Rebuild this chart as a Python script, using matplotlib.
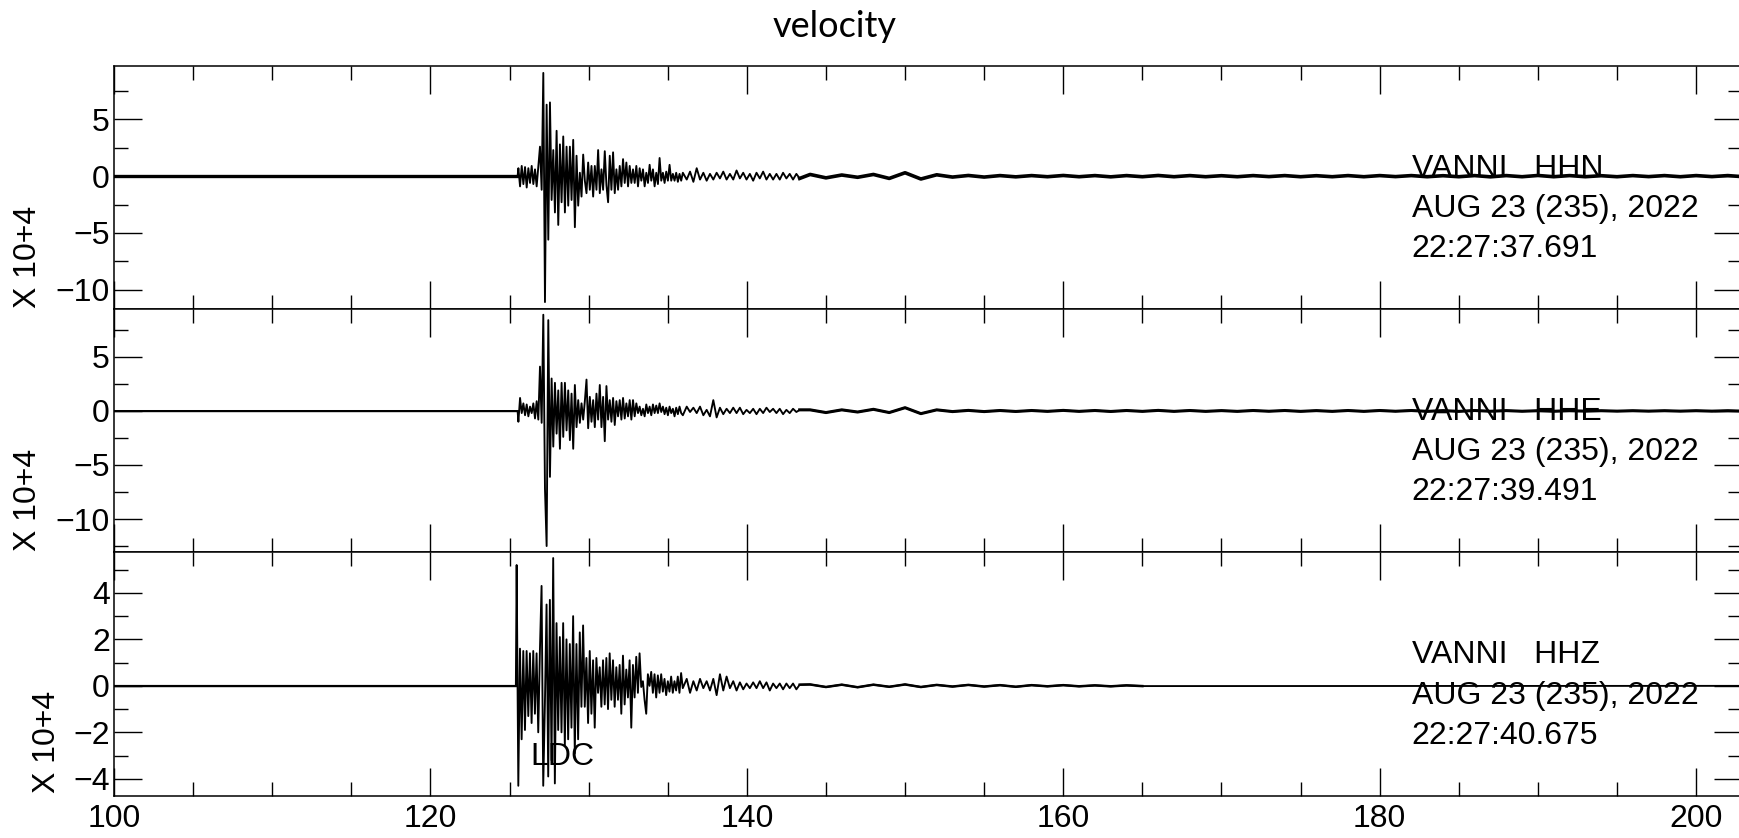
import numpy as np
import matplotlib.pyplot as plt
from matplotlib.ticker import MultipleLocator

plt.rcParams['font.family'] = ['Liberation Sans', 'DejaVu Sans']
plt.rcParams['font.size'] = 23

# time axis (s) and sample spacing used for the hand-read traces
X_MIN, X_MAX = 100.0, 202.9
BURST_DT = 0.105
CODA_START, CODA_DT = 136.20, 0.21
TAIL_START, TAIL_DT = 144.0, 1.0

# amplitudes in units of 10^4
hhn_onset = 125.56
hhn_burst = [0.7, -0.9, 0.9, -0.7, 0.8, -1.0, 0.7, -0.6, 0.9, -0.7, 0.6, -0.9, 0.9,
             2.6, -1.2, 9.1, -11.1, 6.3, -5.6, 6.5, -2.1, 2.3, -3.2, 4.0, -4.3, 2.8, -2.3,
             3.5, -3.2, 2.6, -2.6, 2.6, -2.1, 3.2, -4.5, 1.8, -2.6, 0.3, -1.8,
             1.9, -0.4, -1.5, 1.2, -1.2, 0.9, -1.8, 0.9, -1.2, 2.3, -1.5, 0.6, -1.2, 2.2,
             -0.8, -2.3, 1.8, -1.2, 2.1, -1.5, 0.6, -1.2, 0.9, -0.9, 1.5, -0.6, 1.2, -0.9,
             0.9, -0.6, 0.6, -0.6, 0.9, -0.9, 0.7, -0.4, 0.6, -0.9, 0.3, -0.6, 1.0, -0.4,
             0.6, -0.9, 0.3, -0.7, 1.6, -0.4, 0.3, -0.6, 0.4, -0.4, 1.0, -0.4, 0.2, -0.4,
             0.3, -0.5, 0.2, -0.4, 0.3]
hhn_coda = [-0.3, 0.4, -0.5, 0.7, -0.3, 0.3, -0.4, 0.2, -0.3, 0.3, -0.2, 0.4, -0.3, 0.2,
            -0.3, 0.5, -0.2, 0.3, -0.3, 0.2, -0.4, 0.3, -0.2, 0.4, -0.3, 0.2, -0.3, 0.2,
            -0.3, 0.3, -0.2, 0.2, -0.3, 0.2, -0.2]
hhn_tail = [0.15, -0.15, 0.1, -0.1, 0.15, -0.2, 0.3, -0.25, 0.12, -0.08, 0.06, -0.08,
            0.05, -0.06, 0.05, -0.05, 0.06, -0.05, 0.05, -0.06, 0.05, -0.05, 0.06, -0.05,
            0.05, -0.05, 0.04, -0.05, 0.05, -0.04, 0.05, -0.05, 0.04, -0.05, 0.05, -0.05,
            0.05, -0.04, 0.05, -0.05, 0.04, -0.05, 0.05, -0.06, 0.05, -0.05, 0.06, -0.05,
            0.05, -0.05, 0.04, -0.05, 0.05, -0.04, 0.05, -0.05, 0.05, -0.04, 0.05, -0.05]

hhe_onset = 125.56
hhe_burst = [-1.0, 1.2, -0.2, 0.7, -0.4, 0.6, -0.5, 0.4, -0.2, 0.7, -0.7, 0.9, -0.8,
             4.1, -1.1, 8.9, -7.2, -12.5, 8.4, -6.1, 3.0, -3.3, 2.6, -2.1, 1.9, -3.5, 2.6,
             -2.4, 2.6, -1.8, 1.9, -2.7, 1.6, -3.5, 2.4, -1.5, 1.0, -1.1, 0.7,
             -0.8, 0.9, 2.9, -1.6, 1.3, -1.0, 1.0, -1.5, 1.6, -0.8, 2.4, -1.5, 1.3, -2.8,
             2.3, -0.8, 1.0, -1.0, 1.2, -1.3, 0.9, -0.5, 1.0, -0.8, 1.2, -0.7, 0.7, -0.5,
             1.0, -0.8, 1.0, -0.5, 0.7, -0.2, 0.4, -0.4, 0.2, -0.5, 0.6, -0.2, 0.4, -0.4,
             0.6, -0.2, 0.5, -0.2, 0.7, -0.1, 0.4, -0.3, 0.3, -0.4, 0.4, -0.2, 0.2, -0.5,
             0.3, -0.3, 0.4, -0.2, -0.4]
hhe_coda = [0.4, -0.1, 0.3, -0.2, 0.4, -0.4, 0.1, -0.5, 1.0, -0.6, 0.3, -0.3, 0.2, -0.2,
            0.3, -0.2, 0.3, -0.3, 0.1, -0.2, 0.2, -0.3, 0.2, -0.2, 0.3, -0.1, 0.2, -0.2,
            0.2, -0.3, 0.1, -0.2, 0.2, -0.1, 0.1]
hhe_tail = [0.1, -0.15, 0.1, -0.1, 0.15, -0.15, 0.3, -0.25, 0.1, -0.06, 0.05, -0.06,
            0.04, -0.05, 0.04, -0.04, 0.05, -0.04, 0.04, -0.05, 0.04, -0.04, 0.05, -0.04,
            0.04, -0.04, 0.03, -0.04, 0.04, -0.03, 0.04, -0.04, 0.03, -0.04, 0.04, -0.04,
            0.04, -0.03, 0.04, -0.04, 0.03, -0.04, 0.04, -0.03, 0.03, -0.03, 0.02, -0.03,
            0.02, -0.02, 0.02, -0.02, 0.02, -0.02, 0.02, -0.02, 0.02, -0.02, 0.02, -0.02]

hhz_onset = 125.45
hhz_burst = [5.2, -4.3, 1.6, -2.3, 1.5, -1.9, 1.5, -1.3, 1.4, -1.6, 1.5, -1.2, 1.4, -2.0, 1.5,
             4.3, -4.3, -0.8, 3.5, -3.9, 3.7, -3.2, 5.5, -4.2, 2.7, -1.9, 2.1, -2.0, 2.7,
             -2.6, 2.0, -2.3, 1.8, -1.8, 3.0, -2.9, 1.8, -2.3, 2.3, -0.9, 2.6,
             -0.9, 1.2, -1.6, 1.5, -1.2, 1.1, -1.8, 1.2, -0.3, 0.8, -0.9, 1.1, -0.8, 1.2,
             -1.0, 1.4, -0.6, 1.1, -0.9, 0.8, -0.6, 0.9, -1.2, 1.3, -0.8, 0.7, -0.5, 1.1,
             -1.8, 0.9, -0.5, 1.25, -0.3, 1.4, -0.05, 0.2, -0.6, -1.2, 0.5, 0.0, 0.6, -0.3,
             0.5, -0.5, 0.45, -0.3, 0.5, -0.25, 0.3, -0.4, 0.2, -0.25, 0.4, -0.3, 0.2, -0.2,
             0.4, -0.3, 0.55, -0.1]
hhz_coda = [0.3, -0.3, 0.2, -0.2, 0.3, -0.1, 0.2, -0.2, 0.3, -0.4, 0.5, -0.2, 0.4, -0.1,
            0.2, -0.2, 0.15, -0.15, 0.1, -0.1, 0.15, -0.1, 0.2, -0.1, 0.15, -0.2, 0.1, -0.1,
            0.1, -0.15, 0.1, -0.1, 0.1, -0.15, 0.05]
hhz_tail = [0.06, -0.05, 0.05, -0.06, 0.05, -0.04, 0.06, -0.05, 0.04, -0.03, 0.04, -0.03,
            0.03, -0.04, 0.03, -0.02, 0.03, -0.02, 0.02, -0.02, 0.02, -0.01]

channels = ['HHN', 'HHE', 'HHZ']
start_times = ['22:27:37.691', '22:27:39.491', '22:27:40.675']
station = 'VANNI'
date_label = 'AUG 23 (235), 2022'
y_limits = [(-11.71, 9.71), (-13.05, 9.43), (-4.74, 5.76)]
y_major = [5, 5, 2]
y_minor = [2.5, 2.5, 1]
pre_width = [2.4, 1.0, 1.0]
tail_width = [2.6, 2.2, 1.8]


def build_trace(onset, burst, coda, tail):
    t_b = onset + BURST_DT * np.arange(len(burst))
    t_c = CODA_START + CODA_DT * np.arange(len(coda))
    t_t = TAIL_START + TAIL_DT * np.arange(len(tail))
    t = np.concatenate([[X_MIN, onset - 0.05], t_b, t_c, t_t, [X_MAX + 1]])
    v = np.concatenate([[0.0, 0.0], burst, coda, tail, [0.0]])
    return t, v, len(burst) + len(coda) + 2


traces = [build_trace(hhn_onset, hhn_burst, hhn_coda, hhn_tail),
          build_trace(hhe_onset, hhe_burst, hhe_coda, hhe_tail),
          build_trace(hhz_onset, hhz_burst, hhz_coda, hhz_tail)]

fig = plt.figure(figsize=(17.39, 8.38), dpi=100)
left, width = 114 / 1739, 1628 / 1739
bottoms = [(838 - 309) / 838, (838 - 552) / 838, (838 - 796) / 838]
heights = [243 / 838, 243 / 838, 244 / 838]

for i in range(3):
    ax = fig.add_axes([left, bottoms[i], width, heights[i]])
    t, v, n_active = traces[i]
    ax.plot(t, v, color='black', lw=1.35, zorder=3)
    # dense low-level noise before and after the event shows as a thicker line
    ax.plot(t[:2], v[:2], color='black', lw=pre_width[i], zorder=3)
    if i < 2:
        ax.plot(t[n_active - 1:], v[n_active - 1:], color='black', lw=tail_width[i],
                zorder=3)
    else:
        ax.plot(t[n_active - 1:-1], v[n_active - 1:-1], color='black', lw=tail_width[i],
                zorder=3)

    ax.set_xlim(X_MIN, X_MAX)
    ax.set_ylim(*y_limits[i])
    ax.xaxis.set_major_locator(MultipleLocator(20))
    ax.xaxis.set_minor_locator(MultipleLocator(5))
    ax.yaxis.set_major_locator(MultipleLocator(y_major[i]))
    ax.yaxis.set_minor_locator(MultipleLocator(y_minor[i]))
    ax.tick_params(which='both', direction='in', top=True, right=True, width=1.0,
                   colors='black')
    ax.tick_params(which='major', length=20)
    ax.tick_params(which='minor', length=10)
    ax.tick_params(axis='y', pad=3)
    ax.tick_params(axis='x', pad=6)
    if i < 2:
        ax.tick_params(axis='x', labelbottom=False)
    for s in ax.spines.values():
        s.set_linewidth(1.1)

    lab_x = -0.053 if i < 2 else -0.041
    ax.text(lab_x, 0.004 if i < 2 else 0.012, 'X 10+4', rotation=90, ha='center',
            va='bottom', transform=ax.transAxes)

    tx = 0.797
    ax.text(tx, 0.544, station + '   ' + channels[i], transform=ax.transAxes,
            va='baseline', zorder=2)
    ax.text(tx, 0.378, date_label, transform=ax.transAxes, va='baseline', zorder=2)
    ax.text(tx, 0.213, start_times[i], transform=ax.transAxes, va='baseline', zorder=2)

    if i == 2:
        ax.text(126.3, -3.41, 'LDC', va='baseline', zorder=1)

fig.text(0.480, 0.956, 'velocity', ha='center', va='baseline', fontsize=26,
         family=['Lato', 'DejaVu Sans'])

fig.savefig('out.png', dpi=100)
